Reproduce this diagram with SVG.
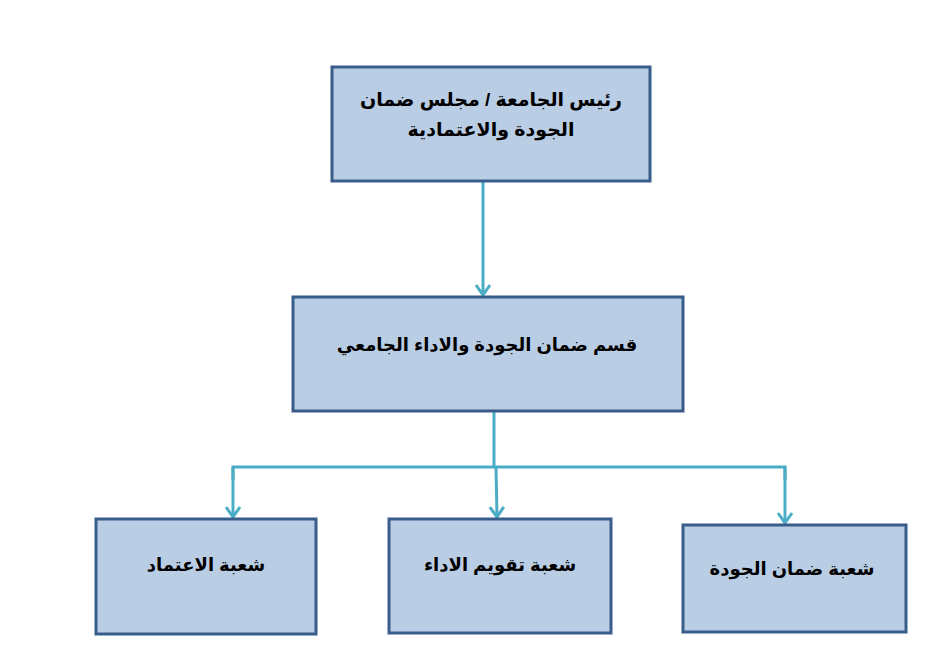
<svg xmlns="http://www.w3.org/2000/svg" width="950" height="667" viewBox="0 0 950 667">
<style>
.box{fill:#B9CDE5;stroke:#385D8A;stroke-width:3}
.lbl{font-family:"Liberation Sans","DejaVu Sans",sans-serif;font-weight:bold;font-size:18px;fill:#000;text-anchor:middle}
.conn{fill:none;stroke:#4BACC6;stroke-width:3}
</style>
<defs>
<marker id="arr" viewBox="0 0 14 18" refX="12" refY="9" markerWidth="14" markerHeight="18" markerUnits="userSpaceOnUse" orient="auto">
<path d="M2,2 L12,9 L2,16" fill="none" stroke="#4BACC6" stroke-width="3"/>
</marker>
</defs>
<rect width="950" height="667" fill="#fff"/>
<g id="connectors">
<line class="conn" x1="483" y1="181" x2="483" y2="295" marker-end="url(#arr)"/>
<line class="conn" x1="494" y1="411" x2="494" y2="467"/>
<polyline class="conn" points="233,480 233,467 785,467 785,480"/>
<line class="conn" x1="233" y1="467" x2="233" y2="517" marker-end="url(#arr)"/>
<line class="conn" x1="496" y1="467" x2="497" y2="517" marker-end="url(#arr)"/>
<line class="conn" x1="785" y1="467" x2="785" y2="523" marker-end="url(#arr)"/>
</g>
<g id="n1">
<rect class="box" x="332" y="67" width="318" height="114"/>
<text class="lbl" x="491" y="106" direction="rtl" style="font-size:19px">رئيس الجامعة / مجلس ضمان</text>
<text class="lbl" x="491" y="136" direction="rtl" style="font-size:19px">الجودة والاعتمادية</text>
</g>
<g id="n2">
<rect class="box" x="293" y="297" width="390" height="114"/>
<text class="lbl" x="487" y="351" direction="rtl">قسم ضمان الجودة والاداء الجامعي</text>
</g>
<g id="n3">
<rect class="box" x="96" y="519" width="220" height="115"/>
<text class="lbl" x="206" y="571" direction="rtl">شعبة الاعتماد</text>
</g>
<g id="n4">
<rect class="box" x="389" y="519" width="222" height="114"/>
<text class="lbl" x="500" y="571" direction="rtl">شعبة تقويم الاداء</text>
</g>
<g id="n5">
<rect class="box" x="683" y="525" width="223" height="107"/>
<text class="lbl" x="792" y="575" direction="rtl">شعبة ضمان الجودة</text>
</g>
</svg>
